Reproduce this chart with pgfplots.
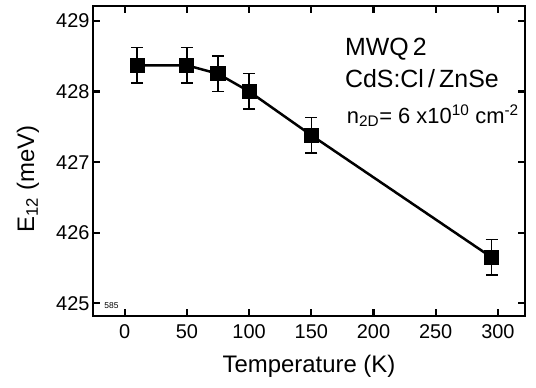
\documentclass[border=0pt]{standalone}
\usepackage{fontspec}
\setmainfont{Liberation Sans}
\usepackage{pgfplots}
\pgfplotsset{compat=1.18}
\begin{document}
\begin{tikzpicture}
\begin{axis}[
  scale only axis, width=432bp, height=310bp,
  xmin=-25.5, xmax=321.8, ymin=424.82, ymax=429.21,
  xtick={0,50,...,300}, ytick={425,426,...,429},
  scaled y ticks=false,
  tick align=inside, major tick length=7bp,
  axis line style={line width=2.8bp},
  every tick/.style={black, line width=2.2bp},
  /pgf/number format/assume math mode=true,
  tick label style={font=\fontsize{20}{23}\selectfont},
  xticklabel style={yshift=-5bp},
  xlabel={Temperature (K)}, ylabel={E\textsubscript{12} (meV)},
  label style={font=\fontsize{24}{28}\selectfont},
  xlabel style={at={(axis description cs:0.5,0)}, anchor=base, yshift=-56bp},
  ylabel style={at={(axis description cs:-0.136,0.442)}, anchor=base},
  clip=false,
]
\addplot[black, line width=2.5bp, mark=square*, mark size=6.3bp,
  mark options={solid, fill=black},
  error bars/.cd, y dir=both, y explicit,
  error bar style={line width=1.4bp},
  error mark options={rotate=90, mark size=6bp, line width=1.4bp}]
coordinates {
  (10,428.37) +- (0,0.25)
  (50,428.37) +- (0,0.25)
  (75,428.25) +- (0,0.25)
  (100,428.00) +- (0,0.25)
  (150,427.38) +- (0,0.25)
  (295,425.65) +- (0,0.25)
};
\node[anchor=base west, inner sep=0, font=\fontsize{25}{28}\selectfont] at (axis cs:177,428.51) {MWQ\,2};
\node[anchor=base west, inner sep=0, font=\fontsize{25}{28}\selectfont] at (axis cs:177,428.06) {CdS:Cl\,/\,ZnSe};
\node[anchor=base west, inner sep=0, font=\fontsize{22}{25}\selectfont] at (axis cs:178.5,427.55) {n\textsubscript{2D}= 6 x10\textsuperscript{10} cm\textsuperscript{-2}};
\node[anchor=base west, inner sep=0, font=\fontsize{8.5}{9}\selectfont] at (axis cs:-16.5,424.92) {585};
\end{axis}
\pgfresetboundingbox
\path[use as bounding box] (current axis.south west) ++(-93bp,-72bp) rectangle ++(536bp,388bp);
\end{tikzpicture}
\end{document}
